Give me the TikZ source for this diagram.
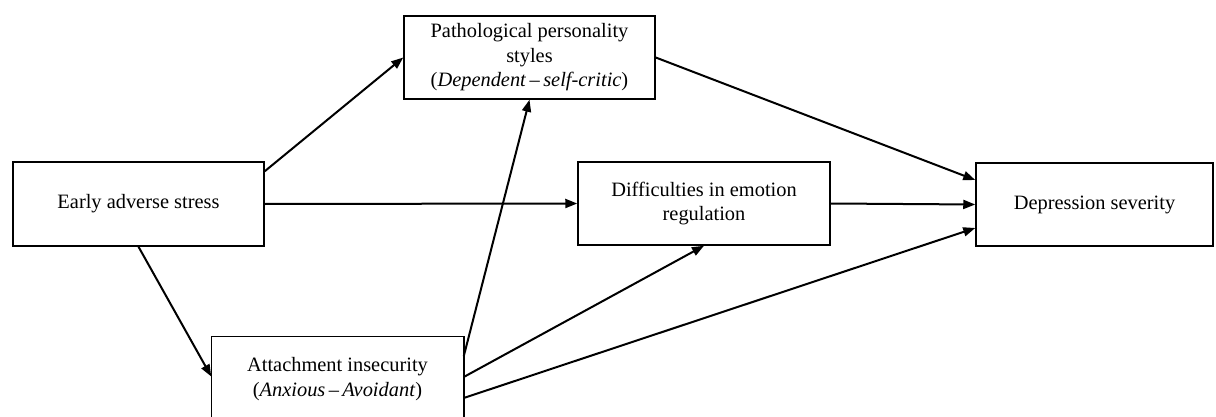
\documentclass[tikz,border=0pt]{standalone}
\usepackage{fontspec}
\setmainfont{Liberation Serif}
\usetikzlibrary{arrows.meta,calc}
\begin{document}
\begin{tikzpicture}[x=1pt,y=1pt,
  box/.style={draw,line width=1.5pt,inner sep=0pt,align=center,
    font=\fontsize{20.4}{24.5}\selectfont,text=black},
  conn/.style={line width=2pt,-{Triangle[length=12pt,width=9pt]}}]
\useasboundingbox (0,0) rectangle (1216,416);
\node[box,minimum width=251pt,minimum height=83pt] (path) at (529.5,358.5)
  {Pathological personality\\styles\\(\textit{Dependent}\,–\,\textit{self-critic})};
\node[box,minimum width=251pt,minimum height=84pt] (early) at (138.5,212)
  {Early adverse stress};
\node[box,minimum width=252pt,minimum height=83pt] (diff) at (704,212.5)
  {Difficulties in emotion\\regulation};
\node[box,minimum width=237pt,minimum height=83pt] (dep) at (1094.5,211.5)
  {Depression severity};
\node[box,draw=none,minimum width=251pt,minimum height=84pt] (att) at (337.5,37)
  {Attachment insecurity\\(\textit{Anxious}\,–\,\textit{Avoidant})};
\draw[line width=1.5pt] (att.south west) -- (att.north west) -- (att.north east) -- (att.south east);
\draw[conn] ($(early.north east)+(0,-10)$) -- (path.west);
\draw[conn] (early.east) -- (diff.west);
\draw[conn] (early.south) -- ($(att.west)+(0,2.5)$);
\draw[conn] ($(att.north east)+(0,-20)$) -- (path.south);
\draw[conn] ($(att.east)+(0,2)$) -- (diff.south);
\draw[conn] ($(att.east)+(0,-19)$) -- ($(dep.west)+(0,-23.5)$);
\draw[conn] (path.east) -- ($(dep.west)+(0,24.5)$);
\draw[conn] (diff.east) -- (dep.west);
\end{tikzpicture}
\end{document}
